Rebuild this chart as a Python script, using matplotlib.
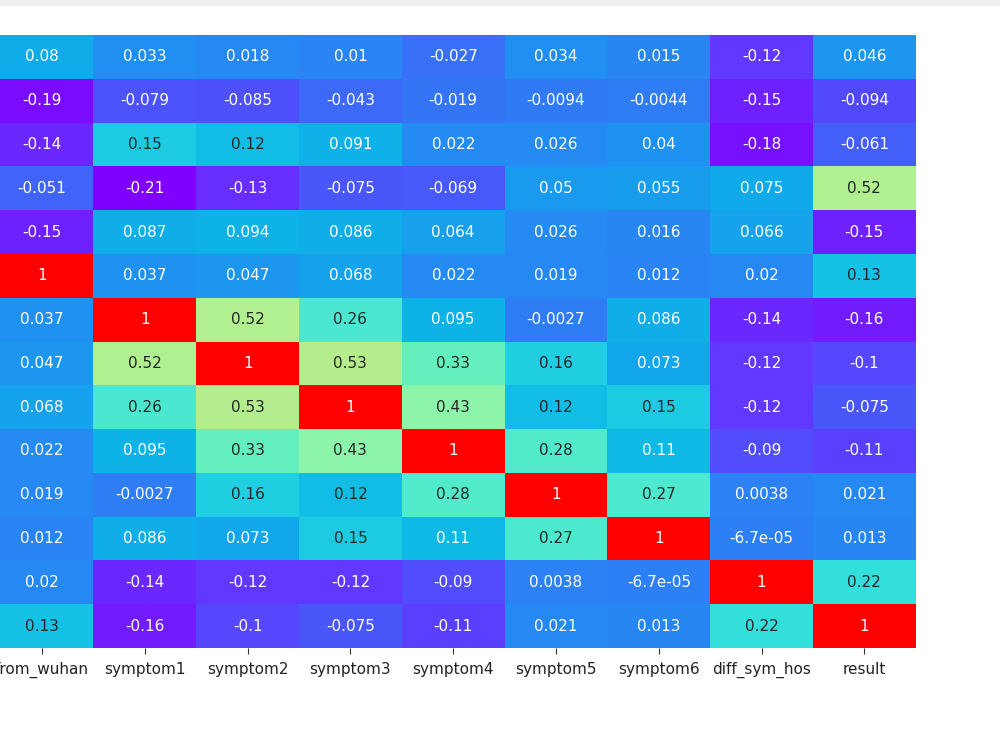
import matplotlib
matplotlib.use("Agg")
import matplotlib.pyplot as plt
import numpy as np
import pandas as pd
import seaborn as sns
from matplotlib.colors import LinearSegmentedColormap
from matplotlib.patches import Rectangle

# visible part of the correlation matrix (rows: all 14 features, cols: last 9)
row_names = ["location", "country", "gender", "age", "vis_wuhan", "from_wuhan",
             "symptom1", "symptom2", "symptom3", "symptom4", "symptom5",
             "symptom6", "diff_sym_hos", "result"]
col_names = ["from_wuhan", "symptom1", "symptom2", "symptom3", "symptom4",
             "symptom5", "symptom6", "diff_sym_hos", "result"]

r_location = [0.08, 0.033, 0.018, 0.01, -0.027, 0.034, 0.015, -0.12, 0.046]
r_country = [-0.19, -0.079, -0.085, -0.043, -0.019, -0.0094, -0.0044, -0.15, -0.094]
r_gender = [-0.14, 0.15, 0.12, 0.091, 0.022, 0.026, 0.04, -0.18, -0.061]
r_age = [-0.051, -0.21, -0.13, -0.075, -0.069, 0.05, 0.055, 0.075, 0.52]
r_vis_wuhan = [-0.15, 0.087, 0.094, 0.086, 0.064, 0.026, 0.016, 0.066, -0.15]
r_from_wuhan = [1, 0.037, 0.047, 0.068, 0.022, 0.019, 0.012, 0.02, 0.13]
r_symptom1 = [0.037, 1, 0.52, 0.26, 0.095, -0.0027, 0.086, -0.14, -0.16]
r_symptom2 = [0.047, 0.52, 1, 0.53, 0.33, 0.16, 0.073, -0.12, -0.1]
r_symptom3 = [0.068, 0.26, 0.53, 1, 0.43, 0.12, 0.15, -0.12, -0.075]
r_symptom4 = [0.022, 0.095, 0.33, 0.43, 1, 0.28, 0.11, -0.09, -0.11]
r_symptom5 = [0.019, -0.0027, 0.16, 0.12, 0.28, 1, 0.27, 0.0038, 0.021]
r_symptom6 = [0.012, 0.086, 0.073, 0.15, 0.11, 0.27, 1, -6.7e-05, 0.013]
r_diff_sym_hos = [0.02, -0.14, -0.12, -0.12, -0.09, 0.0038, -6.7e-05, 1, 0.22]
r_result = [0.13, -0.16, -0.1, -0.075, -0.11, 0.021, 0.013, 0.22, 1]

VMIN, VMAX = -0.21, 1.0
stops = [(-0.21, "#8000ff"), (-0.15, "#6e22ff"), (-0.12, "#6038ff"),
         (-0.075, "#4858fa"), (0.0, "#2d80f5"), (0.04, "#1e92f0"),
         (0.075, "#10aaea"), (0.1, "#0cb6e6"), (0.15, "#1ccbe2"),
         (0.22, "#34e0da"), (0.26, "#4ae8d0"), (0.33, "#64f0be"),
         (0.43, "#8cf5aa"), (0.52, "#b0f090"), (0.75, "#ffb050"),
         (1.0, "#ff0000")]


def make_cmap():
    pts = [((v - VMIN) / (VMAX - VMIN), c) for v, c in stops]
    return LinearSegmentedColormap.from_list("shot_rainbow", pts)


def main():
    corr = pd.DataFrame(
        [r_location, r_country, r_gender, r_age, r_vis_wuhan, r_from_wuhan,
         r_symptom1, r_symptom2, r_symptom3, r_symptom4, r_symptom5,
         r_symptom6, r_diff_sym_hos, r_result],
        index=row_names, columns=col_names)

    fig = plt.figure(figsize=(10, 7.5), dpi=100)
    ax = fig.add_axes([-0.0093, 0.136, 0.925, 0.8173])
    sns.heatmap(corr, ax=ax, cmap=make_cmap(), vmin=VMIN, vmax=VMAX,
                annot=True, annot_kws={"size": 11}, cbar=False)
    ax.set_yticks([])
    ax.set_ylabel("")
    # first column label is cut by the left edge, as in the screenshot
    ax.tick_params(axis="x", labelsize=11, rotation=0, colors="#333333",
                   length=4, pad=6)
    for lab in ax.get_xticklabels():
        lab.set_color("#222222")

    # notebook toolbar strip at the very top of the screenshot
    fig.patches.append(Rectangle((0, 0.993), 1, 0.007, transform=fig.transFigure,
                                 color="#f0f0f0", zorder=0))
    fig.savefig("out.png", dpi=100)


if __name__ == '__main__':
    main()
